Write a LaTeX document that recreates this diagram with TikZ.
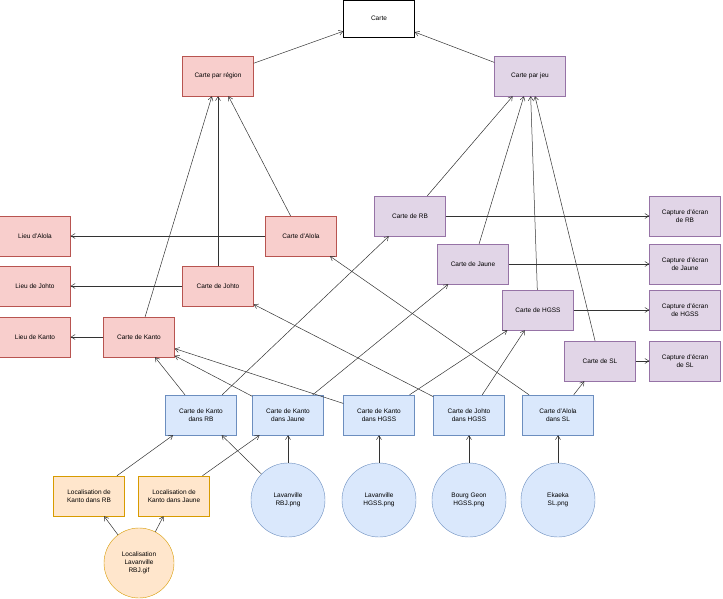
\documentclass[tikz,border=0pt]{standalone}
\usepackage{fontspec}
\setmainfont{Liberation Sans}
\usetikzlibrary{arrows.meta}
\definecolor{pkF}{HTML}{F8CECC}\definecolor{pkD}{HTML}{B85450}
\definecolor{puF}{HTML}{E1D5E7}\definecolor{puD}{HTML}{9673A6}
\definecolor{blF}{HTML}{DAE8FC}\definecolor{blD}{HTML}{6C8EBF}
\definecolor{orF}{HTML}{FFE6CC}\definecolor{orD}{HTML}{D79B00}
\begin{document}
\begin{tikzpicture}[x=1pt,y=-1pt,
 box/.style={draw,minimum width=71pt,minimum height=40pt,align=center,font=\fontsize{6.5}{8}\selectfont,inner sep=1pt},
 pk/.style={box,fill=pkF,draw=pkD},
 pu/.style={box,fill=puF,draw=puD},
 bl/.style={box,fill=blF,draw=blD},
 orb/.style={box,fill=orF,draw=orD},
 circ/.style={circle,draw=blD,fill=blF,minimum size=74pt,align=center,font=\fontsize{6.5}{8}\selectfont,inner sep=0pt},
 ocirc/.style={circle,draw=orD,fill=orF,minimum size=70pt,align=center,font=\fontsize{6.5}{8}\selectfont,inner sep=0pt},
 ar/.style={-{Straight Barb[length=4pt,width=5pt]},draw=black!80,line width=0.5pt}]
\useasboundingbox (0,0) rectangle (723,599);
\node[box,fill=white,minimum height=37pt] (carte) at (379,18.5) {Carte};
\node[pk] (reg) at (218,76) {Carte par région};
\node[pu] (jeu) at (530,76) {Carte par jeu};
\node[pu] (rb) at (410,216) {Carte de RB};
\node[pk] (alola) at (301,236) {Carte d'Alola};
\node[pk] (lalola) at (35,236) {Lieu d'Alola};
\node[pu] (jaune) at (473,264) {Carte de Jaune};
\node[pk] (johto) at (218,286) {Carte de Johto};
\node[pk] (ljohto) at (35,286) {Lieu de Johto};
\node[pu] (hgss) at (538,310) {Carte de HGSS};
\node[pk] (kanto) at (139,337) {Carte de Kanto};
\node[pk] (lkanto) at (35,337) {Lieu de Kanto};
\node[pu] (sl) at (600,361) {Carte de SL};
\node[pu] (crb) at (685,216) {Capture d'écran\\de RB};
\node[pu] (cja) at (685,264) {Capture d'écran\\de Jaune};
\node[pu] (chg) at (685,310) {Capture d'écran\\de HGSS};
\node[pu] (csl) at (685,361) {Capture d'écran\\de SL};
\node[bl] (krb) at (201,415) {Carte de Kanto\\dans RB};
\node[bl] (kja) at (288,415) {Carte de Kanto\\dans Jaune};
\node[bl] (khg) at (379,415) {Carte de Kanto\\dans HGSS};
\node[bl] (jhg) at (469,415) {Carte de Johto\\dans HGSS};
\node[bl] (asl) at (558,415) {Carte d'Alola\\dans SL};
\node[orb] (lrb) at (89,496) {Localisation de\\Kanto dans RB};
\node[orb] (lja) at (174,496) {Localisation de\\Kanto dans Jaune};
\node[circ] (lav) at (288,500) {Lavanville\\RBJ.png};
\node[circ] (lavh) at (379,500) {Lavanville\\HGSS.png};
\node[circ] (bg) at (469,500) {Bourg Geon\\HGSS.png};
\node[circ] (ek) at (558,500) {Ekaeka\\SL.png};
\node[ocirc] (gif) at (139,563) {Localisation\\Lavanville\\RBJ.gif};
\draw[ar] (reg) -- (carte); \draw[ar] (jeu) -- (carte);
\foreach \a in {kanto,johto,alola} \draw[ar] (\a) -- (reg);
\foreach \a in {rb,jaune,hgss,sl} \draw[ar] (\a) -- (jeu);
\draw[ar] (rb) -- (crb); \draw[ar] (jaune) -- (cja); \draw[ar] (hgss) -- (chg); \draw[ar] (sl) -- (csl);
\draw[ar] (alola) -- (lalola); \draw[ar] (johto) -- (ljohto); \draw[ar] (kanto) -- (lkanto);
\draw[ar] (krb) -- (kanto); \draw[ar] (krb) -- (rb);
\draw[ar] (kja) -- (kanto); \draw[ar] (kja) -- (jaune);
\draw[ar] (khg) -- (kanto); \draw[ar] (khg) -- (hgss);
\draw[ar] (jhg) -- (johto); \draw[ar] (jhg) -- (hgss);
\draw[ar] (asl) -- (alola); \draw[ar] (asl) -- (sl);
\draw[ar] (lrb) -- (krb); \draw[ar] (lja) -- (kja);
\draw[ar] (lav) -- (krb); \draw[ar] (lav) -- (kja);
\draw[ar] (lavh) -- (khg); \draw[ar] (bg) -- (jhg); \draw[ar] (ek) -- (asl);
\draw[ar] (gif) -- (lrb); \draw[ar] (gif) -- (lja);
\end{tikzpicture}
\end{document}
